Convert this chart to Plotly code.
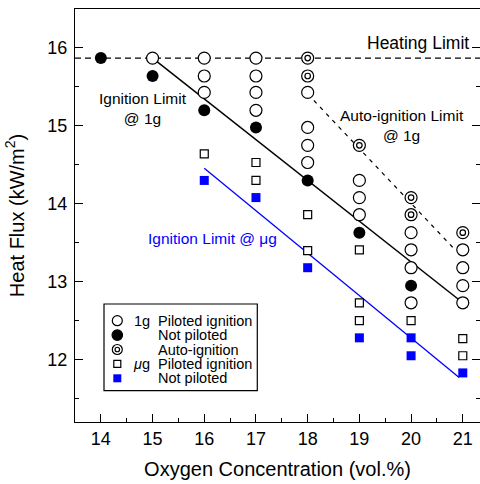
import plotly.graph_objects as go

# ---------------- data ----------------
# 1g piloted ignition (open circles)
g1_pil_x = [15, 16, 16, 16, 17, 17, 17, 17, 18, 18, 18, 18, 19, 19, 19, 20, 20, 20, 20, 21, 21, 21, 21]
g1_pil_y = [15.87, 15.87, 15.64, 15.43, 15.87, 15.64, 15.43, 15.20, 15.43, 14.98, 14.75, 14.53,
            14.30, 14.08, 13.86, 13.63, 13.41, 13.18, 12.73, 13.41, 13.18, 12.95, 12.73]
# 1g not piloted (filled circles)
g1_np_x = [14, 15, 16, 17, 18, 19, 20]
g1_np_y = [15.87, 15.64, 15.20, 14.98, 14.30, 13.63, 12.95]
# 1g auto-ignition
auto_x = [18, 18, 19, 20, 20, 21]
auto_y = [15.87, 15.64, 14.75, 14.08, 13.86, 13.63]
# micro-g piloted ignition (open squares)
ug_pil_x = [16, 17, 17, 18, 18, 19, 19, 19, 20, 20, 21, 21, 21]
ug_pil_y = [14.64, 14.53, 14.30, 13.86, 13.40, 13.41, 12.73, 12.50, 12.73, 12.50, 12.73, 12.27, 12.05]
# micro-g not piloted (blue squares)
ug_np_x = [16, 17, 18, 19, 20, 20, 21]
ug_np_y = [14.30, 14.08, 13.18, 12.28, 12.28, 12.05, 11.83]

# limit lines
heating_limit = 15.87
ign1g_x = [15, 21]
ign1g_y = [15.87, 12.73]
autolim_x = [18, 20.85]
autolim_y = [15.41, 13.41]
ignug_x = [16, 20.93]
ignug_y = [14.455, 11.77]

x_ticks = [14, 15, 16, 17, 18, 19, 20, 21]
y_ticks = [12, 13, 14, 15, 16]

FONT = "Liberation Sans, Arial, sans-serif"
W, H = 480, 484
ML, MR, MT, MB = 75, 0, 9, 62

def px2x(px):
    return (px - ML) / (W - ML - MR)

def py2y(py):
    return 1 - (py - MT) / (H - MT - MB)

fig = go.Figure()

# lines
fig.add_trace(go.Scatter(x=ign1g_x, y=ign1g_y, mode="lines",
                         line=dict(color="black", width=1.5), showlegend=False, hoverinfo="skip"))
fig.add_trace(go.Scatter(x=autolim_x, y=autolim_y, mode="lines",
                         line=dict(color="black", width=1.2, dash="4px,5px"), showlegend=False, hoverinfo="skip"))
fig.add_trace(go.Scatter(x=ignug_x, y=ignug_y, mode="lines",
                         line=dict(color="#0000ff", width=1.3), showlegend=False, hoverinfo="skip"))

fig.add_shape(type="line", xref="paper", x0=0, x1=1, yref="y", y0=heating_limit, y1=heating_limit,
              line=dict(color="black", width=1.2, dash="6px,4px"), layer="below")

# markers
fig.add_trace(go.Scatter(x=ug_pil_x, y=ug_pil_y, mode="markers",
                         marker=dict(symbol="square", size=8, color="white", line=dict(color="black", width=1.2)),
                         showlegend=False))
fig.add_trace(go.Scatter(x=g1_pil_x, y=g1_pil_y, mode="markers",
                         marker=dict(symbol="circle", size=12, color="white", line=dict(color="black", width=1.2)),
                         showlegend=False))
fig.add_trace(go.Scatter(x=g1_np_x, y=g1_np_y, mode="markers",
                         marker=dict(symbol="circle", size=12, color="black", line=dict(color="black", width=0)),
                         showlegend=False))
fig.add_trace(go.Scatter(x=auto_x, y=auto_y, mode="markers",
                         marker=dict(symbol="circle", size=12, color="white", line=dict(color="black", width=1.2)),
                         showlegend=False))
fig.add_trace(go.Scatter(x=auto_x, y=auto_y, mode="markers",
                         marker=dict(symbol="circle-open", size=5.5, color="black", line=dict(color="black", width=1.2)),
                         showlegend=False))
fig.add_trace(go.Scatter(x=ug_np_x, y=ug_np_y, mode="markers",
                         marker=dict(symbol="square", size=9, color="#0000ff", line=dict(width=0)),
                         showlegend=False))

# annotations
ann_font = dict(family=FONT, size=15.5, color="black")
fig.add_annotation(x=21.15, y=16.06, text="Heating Limit", showarrow=False, xanchor="right", yanchor="middle",
                   font=dict(family=FONT, size=17.5, color="black"))
fig.add_annotation(x=14.82, y=15.22, text="Ignition Limit<br>@ 1g", showarrow=False, xanchor="center",
                   yanchor="middle", font=ann_font, align="center")
fig.add_annotation(x=19.83, y=15.01, text="Auto-ignition Limit<br>@ 1g", showarrow=False, xanchor="center",
                   yanchor="middle", font=ann_font, align="center")
fig.add_annotation(x=16.16, y=13.55, text="Ignition Limit @ \u03bcg", showarrow=False, xanchor="center",
                   yanchor="middle", font=dict(family=FONT, size=15.5, color="#0000ff"))

# custom legend
fig.add_shape(type="rect", xref="paper", yref="paper", x0=px2x(104), x1=px2x(257.3), y0=py2y(390.7), y1=py2y(304),
              line=dict(color="black", width=1.2), fillcolor="white", layer="above")
rows = [320.7 + 14.4 * i for i in range(5)]
sx = px2x(117.3)

def sym(kind, row, size, fill, lw=1.2, color="black"):
    fig.add_shape(type=kind, xref="paper", yref="paper", xsizemode="pixel", ysizemode="pixel",
                  xanchor=sx, yanchor=py2y(row), x0=-size / 2, x1=size / 2, y0=-size / 2, y1=size / 2,
                  line=dict(color=color, width=lw), fillcolor=fill, layer="above")

sym("circle", rows[0], 10, "white")
sym("circle", rows[1], 10.5, "black")
sym("circle", rows[2], 10, "white")
sym("circle", rows[2], 4.5, "white")
sym("rect", rows[3], 7, "white")
sym("rect", rows[4], 8, "#0000ff", lw=0, color="#0000ff")

leg_font = dict(family=FONT, size=14.5, color="black")
labels = ["Piloted ignition", "Not piloted", "Auto-ignition", "Piloted ignition", "Not piloted"]
for r, t in zip(rows, labels):
    fig.add_annotation(xref="paper", yref="paper", x=px2x(157), y=py2y(r), text=t, showarrow=False,
                       xanchor="left", yanchor="middle", font=leg_font, borderpad=0)
fig.add_annotation(xref="paper", yref="paper", x=px2x(133), y=py2y(rows[0]), text="1g", showarrow=False,
                   xanchor="left", yanchor="middle", font=leg_font, borderpad=0)
fig.add_annotation(xref="paper", yref="paper", x=px2x(132), y=py2y(rows[3]), text="<i>\u03bc</i>g", showarrow=False,
                   xanchor="left", yanchor="middle", font=leg_font, borderpad=0)

axis_common = dict(showline=True, linecolor="black", linewidth=1.2, ticks="inside", ticklen=8,
                   tickwidth=1.2, tickcolor="black", showgrid=False, zeroline=False,
                   tickfont=dict(family=FONT, size=18, color="black"))

fig.update_xaxes(range=[13.5, 21.333], tickvals=x_ticks, mirror=True,
                 minor=dict(dtick=0.5, ticks="inside", ticklen=4, tickwidth=1.2, tickcolor="black"),
                 title=dict(text="Oxygen Concentration (vol.%)", font=dict(family=FONT, size=20, color="black"),
                            standoff=14),
                 ticklabelstandoff=0, **axis_common)
fig.update_yaxes(range=[11.2, 16.5], tickvals=y_ticks, mirror="ticks",
                 minor=dict(dtick=0.5, ticks="inside", ticklen=4, tickwidth=1.2, tickcolor="black"),
                 title=dict(text="Heat Flux (kW/m<sup>2</sup>)", font=dict(family=FONT, size=20, color="black"),
                            standoff=17),
                 ticklabelstandoff=3, **axis_common)

fig.update_layout(width=W, height=H, margin=dict(l=ML, r=MR, t=MT, b=MB, autoexpand=False),
                  plot_bgcolor="white", paper_bgcolor="white", showlegend=False,
                  font=dict(family=FONT, color="black"))

fig.write_html("out.html", config={"displayModeBar": False},
               post_script="document.body.style.margin='0';document.body.style.overflow='hidden';")
